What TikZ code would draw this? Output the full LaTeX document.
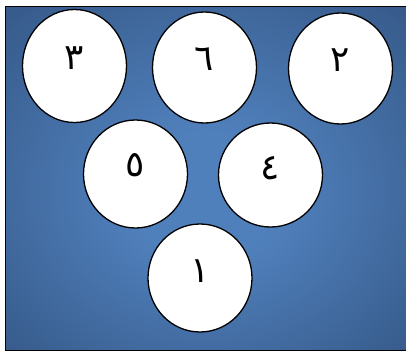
\documentclass[tikz,border=0pt]{standalone}
\usepackage{fontspec}
\usepackage{tikz}
\usetikzlibrary{positioning,shapes.geometric}
\TeXXeTstate=1
\newfontfamily\arabicfont[Script=Arabic]{DejaVu Sans}
\definecolor{bgdark}{RGB}{46,78,122}
\definecolor{bglight}{RGB}{80,128,188}
\pgfdeclareradialshading{bgglow}{\pgfpoint{0bp}{-3bp}}{color(0bp)=(bglight); color(9bp)=(bglight); color(44bp)=(bgdark); color(50bp)=(bgdark)}

\begin{document}
\begin{tikzpicture}[
  x=1bp, y=-1bp,
  ball/.style={draw, ellipse, fill=white, line width=1.3bp, minimum width=104bp, minimum height=108bp, inner sep=0pt},
  digit/.style={anchor=base, inner sep=0pt, font=\arabicfont\fontsize{36}{40}\selectfont}
]
\useasboundingbox (0,0) rectangle (406,352);
\node[draw, line width=1.3bp, shading=bgglow, minimum width=402bp, minimum height=344bp, anchor=north west, inner sep=0pt] (frame) at (5,6) {};
% top row
\node[ball, minimum height=113bp] (b3) at (74.5,66) {};
\node[ball, minimum height=111bp] (b6) at (204.5,67.5) {};
\node[ball, minimum height=111bp] (b2) at (340.5,68.5) {};
% middle row
\node[ball] (b5) at (135.5,174) {};
\node[ball, minimum height=104bp] (b4) at (270.5,175) {};
% bottom
\node[ball] (b1) at (200,278) {};
\node[digit] (d3) at ([yshift=-3bp]b3.center) {\beginR ٣\endR};
\node[digit] (d6) at ([yshift=-3bp]b6.center) {\beginR ٦\endR};
\node[digit] (d2) at ([yshift=-3bp]b2.center) {\beginR ٢\endR};
\node[digit] (d5) at ([yshift=-2bp]b5.center) {\beginR ٥\endR};
\node[digit] (d4) at ([yshift=-4bp]b4.center) {\beginR ٤\endR};
\node[digit] (d1) at ([yshift=-4bp]b1.center) {\beginR ١\endR};
\end{tikzpicture}
\end{document}
